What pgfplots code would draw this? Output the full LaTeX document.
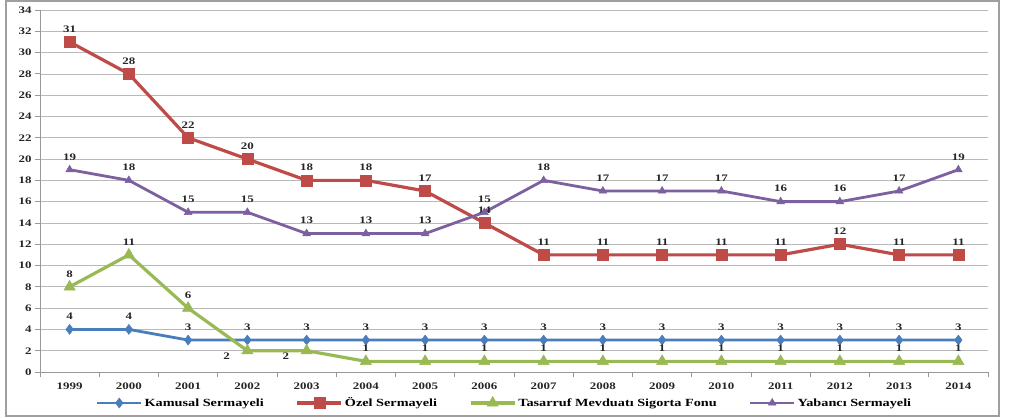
\documentclass[border=0pt]{standalone}
\usepackage{pgfplots}
\pgfplotsset{compat=1.18}
\usepackage{fontspec}
\setmainfont{Liberation Serif}[FakeStretch=1.3]
\definecolor{cblue}{HTML}{4A7EBB}
\definecolor{cred}{HTML}{BE4B48}
\definecolor{cgreen}{HTML}{98B954}
\definecolor{cpurple}{HTML}{7D60A0}
\pgfkeys{/pgf/number format/assume math mode=true}
\begin{document}
\begin{tikzpicture}
\begin{axis}[
  at={(0,0)}, anchor=south west,
  scale only axis, width=948bp, height=362bp,
  xmin=-0.5, xmax=15.5, ymin=0, ymax=34,
  ytick={0,2,...,34},
  xtick={0,...,15},
  xticklabels={1999,2000,2001,2002,2003,2004,2005,2006,2007,2008,2009,2010,2011,2012,2013,2014},
  minor xtick={-0.5,0.5,...,15.5},
  major x tick style={draw=none},
  minor x tick style={draw=gray!80, line width=0.8bp},
  y tick style={draw=gray!80, line width=0.8bp},
  tick align=outside,
  major tick length=5bp, minor tick length=5bp,
  axis x line*=bottom, axis y line*=left,
  axis line style={draw=gray!80, line width=0.8bp, -},
  ymajorgrids, grid style={draw=gray!55, line width=0.7bp},
  ticklabel style={font=\bfseries\fontsize{10}{11}\selectfont, text=black!85},
  xticklabel style={yshift=-2bp},
  every node near coord/.append style={font=\bfseries\fontsize{10}{11}\selectfont, text=black!85, yshift=6bp},
  legend style={at={(0.49,-0.0856)}, anchor=center, draw=none, fill=none,
     font=\bfseries\fontsize{11}{12}\selectfont, legend columns=4,
     /tikz/every even column/.append style={column sep=30bp}},
  legend image code/.code={\draw[mark repeat=2,mark phase=2] plot coordinates {(0bp,0bp) (22bp,0bp) (44bp,0bp)};},
  clip=false,
]
\addplot[cblue, line width=2.8bp, mark=diamond*, mark size=5bp, mark options={line width=0.5bp, fill=cblue},
  nodes near coords]
  coordinates {(0,4)(1,4)(2,3)(3,3)(4,3)(5,3)(6,3)(7,3)(8,3)(9,3)(10,3)(11,3)(12,3)(13,3)(14,3)(15,3)};
\addlegendentry{Kamusal Sermayeli}
\addplot[cred, line width=3.2bp, mark=square*, mark size=5.5bp, mark options={line width=0.5bp, fill=cred},
  nodes near coords]
  coordinates {(0,31)(1,28)(2,22)(3,20)(4,18)(5,18)(6,17)(7,14)(8,11)(9,11)(10,11)(11,11)(12,11)(13,12)(14,11)(15,11)};
\addlegendentry{Özel Sermayeli}
\addplot[cgreen, line width=3.2bp, mark=triangle*, mark size=6.5bp, mark options={line width=0.5bp, fill=cgreen}]
  coordinates {(0,8)(1,11)(2,6)(3,2)(4,2)(5,1)(6,1)(7,1)(8,1)(9,1)(10,1)(11,1)(12,1)(13,1)(14,1)(15,1)};
\addlegendentry{Tasarruf Mevduatı Sigorta Fonu}
\addplot[cpurple, line width=2.8bp, mark=triangle*, mark size=4.5bp, mark options={line width=0.5bp, fill=cpurple},
  nodes near coords]
  coordinates {(0,19)(1,18)(2,15)(3,15)(4,13)(5,13)(6,13)(7,15)(8,18)(9,17)(10,17)(11,17)(12,16)(13,16)(14,17)(15,19)};
\addlegendentry{Yabancı Sermayeli}
\addplot[draw=none, mark=none, nodes near coords, forget plot]
  coordinates {(0,8)(1,11)(2,6)(5,1)(6,1)(7,1)(8,1)(9,1)(10,1)(11,1)(12,1)(13,1)(14,1)(15,1)};
\addplot[draw=none, mark=none, nodes near coords, forget plot,
  every node near coord/.append style={anchor=east, xshift=-14bp, yshift=-11bp}]
  coordinates {(3,2)(4,2)};
\end{axis}
\draw[gray!75, line width=1.2bp] (-34bp,-44bp) rectangle (959bp,371bp);
\path (-40bp,-46bp) rectangle (969bp,372bp);
\end{tikzpicture}
\end{document}
